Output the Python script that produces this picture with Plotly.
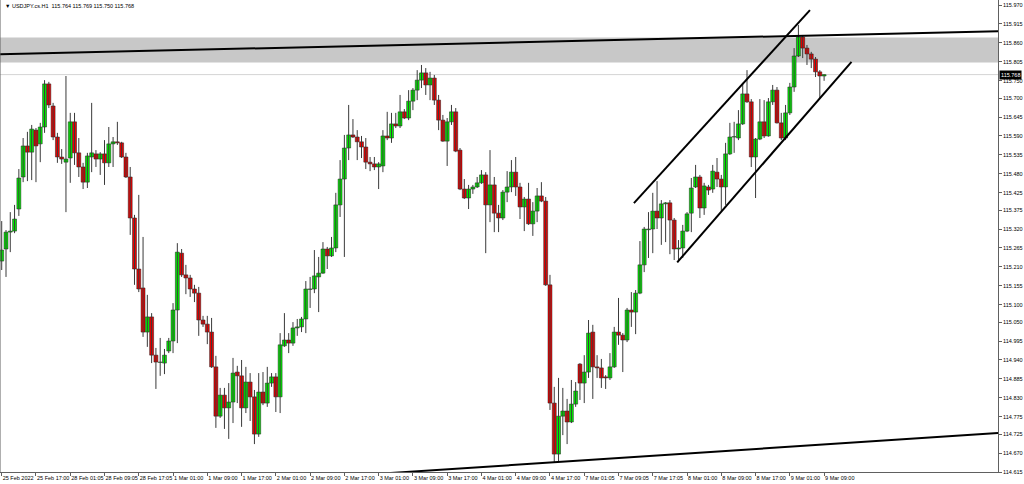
import plotly.graph_objects as go

# ---------------- data (USDJPY.cs, H1) ----------------
opens = [115.227,115.262,115.311,115.314,115.378,115.471,115.561,115.543,115.607,115.567,
115.616,115.741,115.677,115.587,115.529,115.514,115.526,115.631,115.541,115.500,
115.456,115.529,115.538,115.523,115.538,115.512,115.567,115.573,115.570,115.529,
115.471,115.352,115.204,115.149,115.021,115.065,114.954,114.933,114.931,114.966,
114.995,115.085,115.250,115.187,115.178,115.146,115.134,115.056,115.044,115.021,
114.920,114.777,114.838,114.801,114.818,114.905,114.894,114.801,114.876,114.833,
114.725,114.847,114.815,114.873,114.891,114.833,114.981,114.998,114.989,115.033,
115.036,115.059,115.145,115.146,115.181,115.192,115.262,115.242,115.265,115.390,
115.465,115.555,115.593,115.587,115.573,115.558,115.514,115.509,115.500,115.503,
115.590,115.584,115.625,115.619,115.660,115.642,115.691,115.723,115.752,115.773,
115.738,115.758,115.694,115.636,115.575,115.631,115.660,115.549,115.436,115.410,
115.436,115.442,115.454,115.477,115.390,115.448,115.366,115.352,115.427,115.442,
115.485,115.442,115.384,115.407,115.335,115.372,115.416,115.401,115.158,114.815,
114.667,114.777,114.792,114.760,114.812,114.928,114.873,114.905,115.021,114.920,
114.917,114.891,114.888,114.920,115.021,115.012,114.998,115.085,115.079,115.134,
115.216,115.318,115.320,115.372,115.352,115.393,115.396,115.346,115.262,115.265,
115.314,115.366,115.442,115.471,115.381,115.442,115.436,115.485,115.465,115.442,
115.538,115.587,115.584,115.625,115.712,115.689,115.529,115.581,115.631,115.590,
115.689,115.723,115.628,115.584,115.657,115.732,115.822,115.877,115.845,115.828,
115.813,115.776,115.764]
highs = [115.343,115.317,115.369,115.390,115.494,115.584,115.602,115.622,115.613,115.628,
115.752,115.747,115.686,115.599,115.552,115.764,115.657,115.657,115.584,115.512,
115.541,115.686,115.549,115.543,115.578,115.616,115.587,115.631,115.573,115.541,
115.500,115.361,115.419,115.297,115.129,115.076,114.975,115.004,114.972,115.004,
115.105,115.279,115.262,115.216,115.187,115.158,115.152,115.068,115.068,115.062,
114.952,114.859,114.859,114.873,114.946,114.923,114.940,114.920,114.902,114.853,
114.902,114.905,114.920,114.902,114.902,115.018,115.076,115.018,115.050,115.059,
115.065,115.169,115.181,115.259,115.239,115.282,115.268,115.297,115.425,115.520,
115.593,115.680,115.639,115.607,115.590,115.584,115.529,115.529,115.514,115.607,
115.660,115.657,115.657,115.709,115.668,115.723,115.729,115.781,115.796,115.787,
115.776,115.767,115.709,115.651,115.642,115.680,115.671,115.555,115.465,115.448,
115.448,115.471,115.491,115.485,115.549,115.471,115.390,115.433,115.488,115.520,
115.529,115.454,115.413,115.454,115.398,115.439,115.456,115.413,115.187,114.862,
114.888,114.859,114.827,114.882,114.876,114.931,114.954,115.056,115.042,114.954,
114.943,114.896,114.960,115.036,115.120,115.018,115.091,115.137,115.143,115.285,
115.326,115.369,115.425,115.459,115.404,115.398,115.404,115.352,115.288,115.332,
115.369,115.468,115.506,115.477,115.454,115.448,115.506,115.526,115.477,115.570,
115.628,115.631,115.665,115.744,115.781,115.697,115.584,115.697,115.694,115.700,
115.738,115.732,115.657,115.680,115.744,115.845,115.912,115.883,115.854,115.834,
115.819,115.781,115.769]
lows = [115.201,115.181,115.253,115.308,115.358,115.456,115.459,115.462,115.456,115.514,
115.599,115.671,115.578,115.512,115.509,115.369,115.454,115.506,115.471,115.436,
115.439,115.485,115.500,115.477,115.448,115.500,115.500,115.564,115.526,115.468,
115.303,115.158,115.137,115.007,114.978,114.931,114.856,114.894,114.899,114.960,
114.960,114.989,115.181,115.131,115.123,115.108,115.010,115.036,114.986,114.917,
114.743,114.772,114.740,114.711,114.757,114.815,114.746,114.786,114.763,114.696,
114.717,114.809,114.804,114.862,114.789,114.786,114.978,114.960,114.981,115.010,
115.021,115.018,115.091,115.134,115.079,115.190,115.204,115.239,115.253,115.355,
115.239,115.520,115.584,115.520,115.526,115.494,115.488,115.491,115.436,115.485,
115.578,115.570,115.613,115.613,115.639,115.636,115.665,115.694,115.729,115.709,
115.694,115.680,115.607,115.573,115.503,115.622,115.543,115.433,115.407,115.378,
115.422,115.439,115.451,115.250,115.340,115.311,115.311,115.346,115.398,115.427,
115.416,115.349,115.314,115.332,115.300,115.340,115.398,115.155,114.795,114.644,
114.644,114.722,114.696,114.757,114.804,114.824,114.815,114.888,114.827,114.888,
114.859,114.856,114.882,114.917,114.984,114.905,114.992,115.036,115.015,115.131,
115.195,115.236,115.250,115.320,115.274,115.282,115.247,115.230,115.224,115.236,
115.311,115.311,115.439,115.352,115.361,115.419,115.425,115.442,115.372,115.390,
115.535,115.541,115.578,115.622,115.686,115.500,115.410,115.578,115.584,115.588,
115.680,115.626,115.578,115.578,115.651,115.718,115.819,115.816,115.796,115.787,
115.761,115.700,115.750]
closes = [115.259,115.311,115.314,115.349,115.468,115.561,115.543,115.610,115.561,115.616,
115.741,115.680,115.587,115.529,115.523,115.523,115.631,115.541,115.500,115.456,
115.532,115.541,115.523,115.538,115.512,115.567,115.573,115.570,115.529,115.471,
115.352,115.204,115.146,115.021,115.065,114.954,114.934,114.934,114.954,114.995,
115.085,115.253,115.187,115.178,115.146,115.134,115.056,115.044,115.021,114.920,
114.777,114.838,114.801,114.818,114.902,114.894,114.801,114.876,114.833,114.725,
114.847,114.815,114.873,114.891,114.833,114.984,114.998,114.989,115.033,115.036,
115.059,115.146,115.146,115.184,115.192,115.262,115.242,115.265,115.390,115.465,
115.555,115.593,115.587,115.573,115.558,115.514,115.509,115.500,115.509,115.590,
115.584,115.625,115.619,115.660,115.642,115.691,115.723,115.752,115.773,115.738,
115.758,115.694,115.636,115.575,115.631,115.660,115.546,115.436,115.410,115.436,
115.442,115.454,115.477,115.390,115.448,115.366,115.352,115.427,115.442,115.485,
115.442,115.384,115.407,115.335,115.372,115.416,115.401,115.158,114.815,114.667,
114.777,114.792,114.760,114.812,114.850,114.873,114.905,115.018,114.920,114.917,
114.888,114.888,114.920,115.021,115.012,114.998,115.085,115.079,115.134,115.216,
115.320,115.320,115.372,115.352,115.393,115.396,115.346,115.262,115.265,115.314,
115.364,115.439,115.471,115.381,115.445,115.433,115.488,115.465,115.442,115.538,
115.587,115.588,115.625,115.712,115.689,115.529,115.581,115.631,115.590,115.689,
115.723,115.628,115.584,115.657,115.732,115.822,115.877,115.845,115.828,115.813,
115.776,115.764,115.768]

time_labels = ["25 Feb 2022","25 Feb 17:00","28 Feb 01:05","28 Feb 09:05","28 Feb 17:05",
"1 Mar 01:00","1 Mar 09:00","1 Mar 17:00","2 Mar 01:00","2 Mar 09:00","2 Mar 17:00",
"3 Mar 01:00","3 Mar 09:00","3 Mar 17:00","4 Mar 01:00","4 Mar 09:00","4 Mar 17:00",
"7 Mar 01:05","7 Mar 09:05","7 Mar 17:05","8 Mar 01:00","8 Mar 09:00","8 Mar 17:00",
"9 Mar 01:00","9 Mar 09:00"]
label_every = 8

price_ticks = [115.970,115.915,115.860,115.805,115.750,115.700,115.645,115.590,115.535,
115.480,115.425,115.375,115.320,115.265,115.210,115.155,115.100,115.050,114.995,114.940,
114.885,114.830,114.775,114.725,114.670,114.615]

title_text = "\u25BC USDJPY.cs.H1  115.764 115.769 115.750 115.768"
last_price = 115.768

# drawing objects (bar index, price)
zone_prices = [115.803, 115.876]
top_line_x = [-0.4, 232.6];  top_line_y = [115.827, 115.894]
bottom_line_x = [90.7, 232.6]; bottom_line_y = [114.612, 114.728]
chan_up_x = [147.6, 188.7];  chan_up_y = [115.395, 115.955]
chan_low_x = [157.7, 198.4]; chan_low_y = [115.223, 115.805]

x_range = [-0.4, 232.6]
y_range = [114.615, 115.9845]

UP_COLOR = "#00f000"
DOWN_COLOR = "#f00000"
EDGE_COLOR = "#1a1a1a"

# ---------------- figure ----------------
n = len(opens)
idx = list(range(n))

# wicks (high-low) as one broken line trace
wick_x, wick_y = [], []
for i in idx:
    wick_x += [i, i, None]
    wick_y += [lows[i], highs[i], None]

body_base = [min(o, c) for o, c in zip(opens, closes)]
body_len = [abs(c - o) for o, c in zip(opens, closes)]
body_col = [UP_COLOR if c >= o else DOWN_COLOR for o, c in zip(opens, closes)]

fig = go.Figure()
fig.add_trace(go.Scatter(x=wick_x, y=wick_y, mode="lines",
                         line=dict(color="#3a3a3a", width=1),
                         hoverinfo="skip", showlegend=False))
fig.add_trace(go.Bar(x=idx, y=body_len, base=body_base, width=0.92,
                     marker=dict(color=body_col, line=dict(color=EDGE_COLOR, width=0.5)),
                     hoverinfo="skip", showlegend=False))

shapes = [
    dict(type="rect", xref="paper", yref="y", x0=0, x1=1, y0=zone_prices[0], y1=zone_prices[1],
         fillcolor="#c8c8c8", line=dict(width=0), layer="below"),
    dict(type="line", xref="paper", yref="y", x0=0, x1=1, y0=last_price, y1=last_price,
         line=dict(color="#d4d4d4", width=1), layer="below"),
    dict(type="line", xref="x", yref="y", x0=top_line_x[0], x1=top_line_x[1],
         y0=top_line_y[0], y1=top_line_y[1], line=dict(color="#000000", width=2)),
    dict(type="line", xref="x", yref="y", x0=bottom_line_x[0], x1=bottom_line_x[1],
         y0=bottom_line_y[0], y1=bottom_line_y[1], line=dict(color="#000000", width=2)),
    dict(type="line", xref="x", yref="y", x0=chan_up_x[0], x1=chan_up_x[1],
         y0=chan_up_y[0], y1=chan_up_y[1], line=dict(color="#000000", width=2)),
    dict(type="line", xref="x", yref="y", x0=chan_low_x[0], x1=chan_low_x[1],
         y0=chan_low_y[0], y1=chan_low_y[1], line=dict(color="#000000", width=2)),
    dict(type="line", xref="paper", yref="paper", x0=0, x1=0, y0=0, y1=1,
         line=dict(color="#606060", width=1)),
]

annotations = [
    dict(text=title_text, xref="paper", yref="paper", x=0.003, y=0.997, xanchor="left",
         yanchor="top", showarrow=False, font=dict(size=5.5, color="#000000")),
    dict(text=f"{last_price:.3f}", xref="paper", yref="y", x=1.0, y=last_price,
         xanchor="left", yanchor="middle", showarrow=False, xshift=1,
         bgcolor="#000000", font=dict(size=5.5, color="#ffffff"), borderpad=1),
]

fig.update_layout(
    width=1024, height=484, autosize=False,
    margin=dict(l=0, r=26, t=0, b=12, autoexpand=False),
    paper_bgcolor="#ffffff", plot_bgcolor="#ffffff",
    font=dict(family="Liberation Sans, Arial, sans-serif", size=5.5, color="#000000"),
    shapes=shapes, annotations=annotations, barmode="overlay",
    xaxis=dict(
        range=x_range,
        tickvals=[i * label_every for i in range(len(time_labels))], ticktext=time_labels,
        ticks="outside", ticklen=3, tickcolor="#606060", tickwidth=1,
        ticklabelposition="outside right", tickangle=0,
        showline=True, linecolor="#606060", linewidth=1,
        showgrid=False, zeroline=False, tickfont=dict(size=5.5),
    ),
    yaxis=dict(
        range=y_range, side="right",
        tickvals=price_ticks, ticktext=[f"{p:.3f}" for p in price_ticks],
        ticks="outside", ticklen=3, tickcolor="#606060", tickwidth=1,
        showline=True, linecolor="#606060", linewidth=1,
        showgrid=False, zeroline=False, tickfont=dict(size=5.5),
    ),
)

fig.write_html("out.html", config={"displayModeBar": False, "staticPlot": True},
               post_script="document.body.style.margin='0';document.body.style.padding='0';"
                           "document.body.style.overflow='hidden';")
